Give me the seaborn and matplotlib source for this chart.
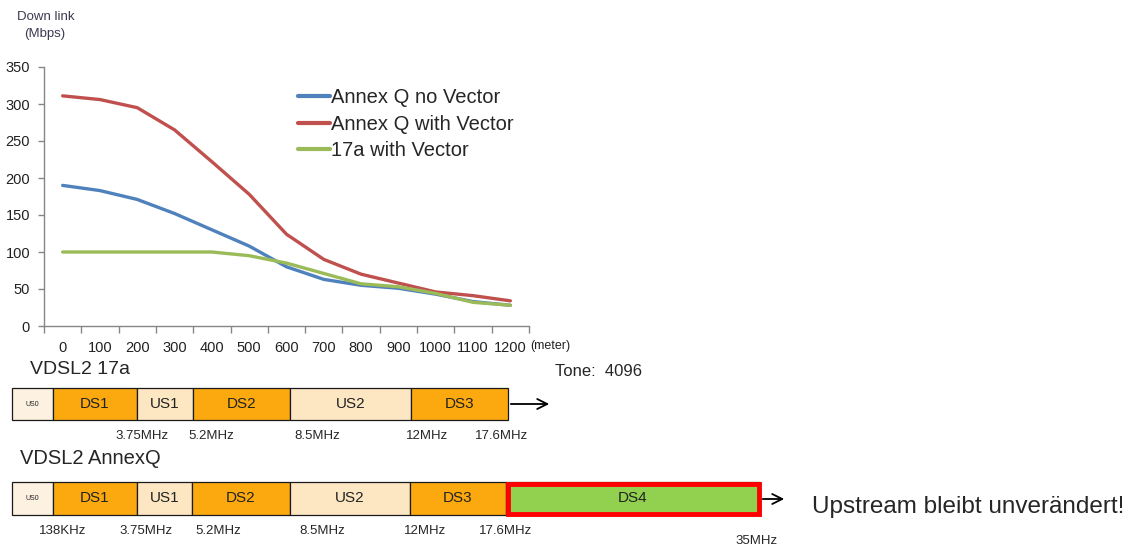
#load all dependencies

import pandas as pd
import numpy as np
import matplotlib
matplotlib.use("Agg")
import matplotlib.pyplot as plt
import seaborn as sns
from matplotlib.patches import Rectangle

#data
distance = [0, 100, 200, 300, 400, 500, 600, 700, 800, 900, 1000, 1100, 1200]
annexq_no_vector = [190, 183, 171, 152, 130, 108, 80, 63, 55, 51, 43, 33, 28]
annexq_with_vector = [311, 306, 295, 265, 222, 178, 124, 90, 70, 58, 46, 41, 34]
vdsl17a_with_vector = [100, 100, 100, 100, 100, 95, 85, 71, 57, 53, 44, 32, 28]
series_names = ["Annex Q no Vector", "Annex Q with Vector", "17a with Vector"]
y_ticks = [0, 50, 100, 150, 200, 250, 300, 350]

bands_17a = ["US0", "DS1", "US1", "DS2", "US2", "DS3"]
freqs_17a = ["3.75MHz", "5.2MHz", "8.5MHz", "12MHz", "17.6MHz"]
bands_q = ["US0", "DS1", "US1", "DS2", "US2", "DS3", "DS4"]
freqs_q = ["138KHz", "3.75MHz", "5.2MHz", "8.5MHz", "12MHz", "17.6MHz", "35MHz"]

sns.set_theme(style="white")
plt.rcParams['font.family'] = ['Liberation Sans', 'DejaVu Sans']

#long form table for seaborn
df = pd.DataFrame({
    "pos": list(range(len(distance))) * 3,
    "rate": annexq_no_vector + annexq_with_vector + vdsl17a_with_vector,
    "series": [s for s in series_names for _ in distance],
})

W, H = 1136, 548
fig = plt.figure(figsize=(W / 100, H / 100), dpi=100)
fig.patch.set_facecolor("white")

# main chart, placed in pixels
ax = fig.add_axes([44 / W, (H - 326) / H, 485 / W, 259 / H])
palette = {"Annex Q no Vector": "#4F81BD", "Annex Q with Vector": "#C0504D",
           "17a with Vector": "#9BBB59"}
sns.lineplot(data=df, x="pos", y="rate", hue="series", palette=palette,
             linewidth=2.4, ax=ax, legend=True)

ax.set_xlim(-0.5, len(distance) - 0.5)
ax.set_ylim(0, 350)
ax.set_yticks(y_ticks)
ax.set_xticks(np.arange(-0.5, len(distance), 1))
ax.set_xticklabels([])
ax.set_xticks(range(len(distance)), minor=True)
ax.set_xticklabels([str(d) for d in distance], minor=True)
ax.tick_params(axis="x", which="major", direction="out", length=5, width=1,
               color="#868686", bottom=True)
ax.tick_params(axis="x", which="minor", length=0, pad=11, labelsize=10.5,
               labelcolor="#222222")
ax.tick_params(axis="y", direction="out", length=4, width=1, color="#868686",
               left=True, labelsize=10.5, pad=6, labelcolor="#222222")
ax.set_xlabel("")
ax.set_ylabel("")
for s in ["top", "right"]:
    ax.spines[s].set_visible(False)
for s in ["left", "bottom"]:
    ax.spines[s].set_color("#868686")
    ax.spines[s].set_linewidth(1)
ax.grid(False)

leg = ax.legend(loc="upper left", bbox_to_anchor=(298 / W, 1 - 88 / H),
                bbox_transform=fig.transFigure, frameon=False,
                fontsize=14.5, handlelength=1.6, handletextpad=0.05,
                labelspacing=0.38, borderaxespad=0, borderpad=0)
for line in leg.get_lines():
    line.set_linewidth(3)

# texts around the chart
fig.text(17 / W, 1 - 17 / H, "Down link", fontsize=9.5, va="center", ha="left",
         color="#3A3A50")
fig.text(24 / W, 1 - 34 / H, "(Mbps)", fontsize=9.5, va="center", ha="left",
         color="#3A3A50")
fig.text(530 / W, 1 - 346 / H, "(meter)", fontsize=9, va="center", ha="left",
         color="#222222")

# band plan drawn on an overlay in pixel coordinates
ov = fig.add_axes([0, 0, 1, 1])
ov.set_xlim(0, W)
ov.set_ylim(H, 0)
ov.axis("off")

band_colors = {"US0": "#FDF2E2", "US": "#FDE7C3", "DS": "#FBA90F", "DS4": "#92D050"}

def draw_bands(bands, edges, top, bottom):
    for i, name in enumerate(bands):
        x0, x1 = edges[i], edges[i + 1]
        if name == "US0":
            fc = band_colors["US0"]
        elif name == "DS4":
            fc = band_colors["DS4"]
        else:
            fc = band_colors[name[:2]]
        ov.add_patch(Rectangle((x0, top), x1 - x0, bottom - top, facecolor=fc,
                               edgecolor="#1A1A1A", linewidth=0.9))
        fs = 5 if name == "US0" else 11
        ov.text((x0 + x1) / 2, (top + bottom) / 2, name, ha="center",
                va="center", fontsize=fs, color="#222222")

# VDSL2 17a
ov.text(30, 370, "VDSL2 17a", fontsize=14, va="center", ha="left")
ov.text(555, 372, "Tone:  4096", fontsize=12, va="center", ha="left")
edges_17a = [12, 53, 137, 193, 290, 411, 508]
draw_bands(bands_17a, edges_17a, 388, 420)
ov.annotate("", xy=(552, 404), xytext=(508, 404),
            arrowprops=dict(arrowstyle="->", color="black", lw=1.3,
                            mutation_scale=18))
for lbl, x in zip(freqs_17a, [142, 211, 317, 427, 502]):
    ov.text(x, 436, lbl, fontsize=9.5, ha="center", va="center")

# VDSL2 AnnexQ
ov.text(20, 459, "VDSL2 AnnexQ", fontsize=14.5, va="center", ha="left")
edges_q = [12, 53, 137, 192, 290, 410, 506, 760]
draw_bands(bands_q, edges_q, 482, 515)
ov.add_patch(Rectangle((edges_q[-2] + 2, 483.5), edges_q[-1] - edges_q[-2] - 3,
                       30, facecolor="none", edgecolor="#FF0000", linewidth=3.5))
ov.annotate("", xy=(787, 499), xytext=(760, 499),
            arrowprops=dict(arrowstyle="->", color="black", lw=1.3,
                            mutation_scale=18))
for lbl, x, y in zip(freqs_q, [63, 146, 218, 322, 425, 506, 757],
                     [531, 531, 531, 531, 531, 531, 541]):
    ov.text(x, y, lbl, fontsize=9.5, ha="center", va="center")

ov.text(812, 507, "Upstream bleibt unverändert!", fontsize=17.5, ha="left",
        va="center")

#save the plot
plt.savefig("out.png", dpi=100)
plt.close()
